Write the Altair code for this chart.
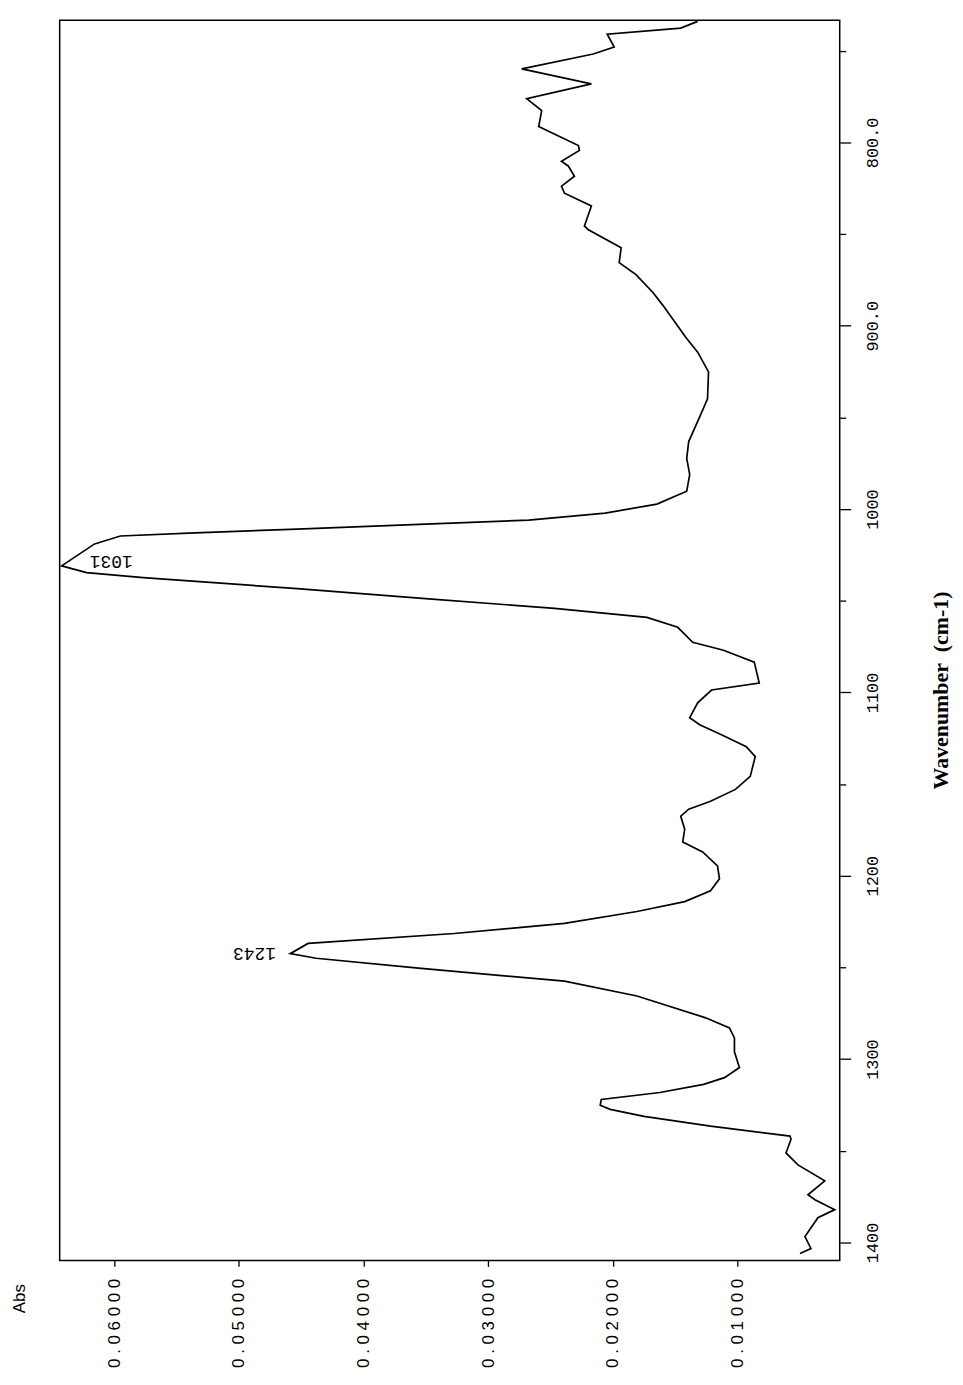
import altair as alt
import pandas as pd

# IR spectrum (page printed rotated 90 degrees): wavenumber runs down the page, absorbance leftwards
wavenumber = [734, 737.7, 741, 748, 751.8, 759.9, 768.1, 776.2, 782.7, 791.4,
              801.7, 804.4, 810.3, 813, 818.5, 823.9, 827.7, 834.7, 845.6, 847.7,
              857.5, 865.6, 872.1, 881.9, 888.9, 906.3, 914.4, 925.2, 939.9, 948.5,
              963.2, 972.4, 981.1, 990.3, 997.3, 1002.2, 1006, 1008.2, 1010.9, 1013,
              1014.7, 1019, 1031, 1034.7, 1037.4, 1043.4, 1048.8, 1054.2, 1059.1, 1064.5,
              1072.7, 1077, 1083.5, 1094.9, 1098.7, 1105.7, 1113.8, 1117.6, 1123.1, 1129.6,
              1135, 1145.8, 1152.9, 1159.4, 1163.7, 1167.5, 1174.6, 1181.6, 1187, 1194.6,
              1201.7, 1208.2, 1214.1, 1219.5, 1226, 1231.5, 1236.9, 1242.5, 1245, 1250.4,
              1257.5, 1265.6, 1277.5, 1283, 1288.4, 1296, 1304.6, 1310.1, 1313.8, 1318.2,
              1322, 1325.2, 1327.4, 1331.2, 1336.6, 1342, 1343.7, 1351.2, 1357.7, 1366.4,
              1374, 1376.7, 1382.1, 1386.5, 1396.8, 1403.3, 1406]

absorbance = [0.01319, 0.01455, 0.02045, 0.01989, 0.02157, 0.02731, 0.02172, 0.02691, 0.02571, 0.02595,
              0.02276, 0.02268, 0.02412, 0.02356, 0.02308, 0.02412, 0.02388, 0.02172, 0.02228, 0.02196,
              0.01933, 0.01949, 0.01814, 0.01678, 0.01598, 0.01415, 0.01319, 0.01232, 0.01240, 0.01295,
              0.01391, 0.01407, 0.01383, 0.01407, 0.01646, 0.02061, 0.02675, 0.03504, 0.04533, 0.05354,
              0.05952, 0.06159, 0.06423, 0.06223, 0.05769, 0.04533, 0.03504, 0.02468, 0.01726, 0.01479,
              0.01359, 0.01112, 0.00865, 0.00825, 0.01208, 0.01319, 0.01383, 0.01303, 0.01128, 0.00929,
              0.00857, 0.00897, 0.01016, 0.01216, 0.01391, 0.01455, 0.01423, 0.01439, 0.01279, 0.01160,
              0.01144, 0.01216, 0.01423, 0.01806, 0.02388, 0.03273, 0.04445, 0.04589, 0.04381, 0.03560,
              0.02388, 0.01806, 0.01255, 0.01064, 0.01024, 0.01024, 0.00984, 0.01104, 0.01271, 0.01622,
              0.02093, 0.02101, 0.02021, 0.01750, 0.01216, 0.00578, 0.00570, 0.00610, 0.00514, 0.00299,
              0.00434, 0.00378, 0.00219, 0.00354, 0.00458, 0.00410, 0.00498]

abs_ticks = [0.01, 0.02, 0.03, 0.04, 0.05, 0.06]
wn_ticks = [750, 800, 850, 900, 950, 1000, 1050, 1100, 1150, 1200, 1250, 1300, 1350, 1400]

peak_wn = [1031, 1242.5]
peak_abs = [0.06423, 0.04589]
peak_text = ["1031", "1243"]

df = pd.DataFrame({"wn": wavenumber, "abs": absorbance})
peaks = pd.DataFrame({"wn": peak_wn, "abs": peak_abs, "label": peak_text})

x_enc = alt.X(
    "abs:Q",
    scale=alt.Scale(domain=[0.00179, 0.06439], reverse=True, nice=False, zero=False),
    axis=alt.Axis(
        orient="bottom", values=abs_ticks,
        labelExpr="join(split(format(datum.value, '.5f'), ''), ' ')",
        labelAngle=270, labelAlign="right", labelBaseline="middle",
        labelFont="Liberation Sans", labelFontSize=17, labelColor="black",
        labelPadding=12, labelOverlap=False, labelFlush=False,
        tickSize=6, tickColor="black", tickWidth=1.3,
        domain=False, grid=False,
        title="Abs", titleAngle=270, titleX=-40, titleY=38,
        titleAlign="center", titleBaseline="middle",
        titleFont="Liberation Sans", titleFontSize=17, titleFontWeight="normal",
        titleColor="black",
    ),
)

y_enc = alt.Y(
    "wn:Q",
    scale=alt.Scale(domain=[733.4, 1409.8], reverse=True, nice=False, zero=False),
    axis=alt.Axis(
        orient="right", values=wn_ticks,
        labelExpr="datum.value % 100 != 0 ? '' : (datum.value < 1000 ? format(datum.value, '.1f') : format(datum.value, 'd'))",
        labelAngle=270, labelAlign="center", labelBaseline="top",
        labelFont="Liberation Mono", labelFontSize=17, labelColor="black",
        labelPadding=14, labelOverlap=False, labelFlush=False,
        tickSize={"condition": {"test": "datum.value % 100 === 0", "value": 11}, "value": 6},
        tickColor="black", tickWidth=1.3,
        domain=False, grid=False,
        title="Wavenumber\u00a0 (cm-1)", titleAngle=270, titleX=101, titleY=674,
        titleAlign="center", titleBaseline="middle",
        titleFont="Liberation Serif", titleFontSize=22, titleFontWeight="bold",
        titleColor="black",
    ),
)

line = alt.Chart(df).mark_line(color="black", strokeWidth=1.7).encode(
    x=x_enc, y=y_enc, order=alt.Order("wn:Q")
)

# peak labels are printed upside down (rotated with the page); dx/dy act in the rotated frame
lab1 = alt.Chart(peaks.iloc[[0]]).mark_text(
    angle=180, font="Liberation Mono", fontSize=18, color="black",
    align="center", baseline="middle", dx=-50, dy=5
).encode(x=x_enc, y=y_enc, text="label:N")

lab2 = alt.Chart(peaks.iloc[[1]]).mark_text(
    angle=180, font="Liberation Mono", fontSize=18, color="black",
    align="center", baseline="middle", dx=36, dy=1
).encode(x=x_enc, y=y_enc, text="label:N")

chart = alt.layer(line, lab1, lab2).properties(
    width=785, height=1248,
    background="white",
    padding={"left": 52, "top": 8, "right": 116, "bottom": 115},
    autosize=alt.AutoSizeParams(type="none"),
).configure_view(stroke="black", strokeWidth=1.5)

chart.save("out.html", embed_options={"renderer": "svg", "actions": False})
